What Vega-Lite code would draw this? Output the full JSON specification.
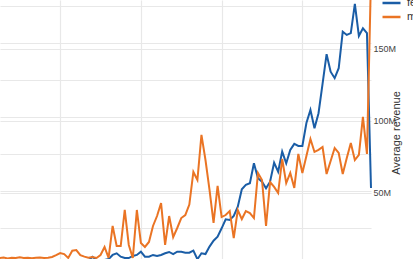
{
  "$schema": "https://vega.github.io/schema/vega-lite/v6.json",
  "width": 371,
  "height": 265,
  "autosize": {"type": "none"},
  "padding": {"left": 0, "top": 0, "right": 42, "bottom": 0},
  "background": "white",
  "config": {
    "view": {"stroke": null},
    "font": "Liberation Sans",
    "axis": {"gridColor": "#e8e8e8", "gridWidth": 1.2, "domain": false, "ticks": false}
  },
  "data": {
    "values": [
      {"year": 1925, "gender": "female", "revenue": 1.5}, {"year": 1926, "gender": "female", "revenue": 2.0}, {"year": 1927, "gender": "female", "revenue": 1.8}, {"year": 1928, "gender": "female", "revenue": 2.2}, {"year": 1929, "gender": "female", "revenue": 1.6}, {"year": 1930, "gender": "female", "revenue": 2.1}, {"year": 1931, "gender": "female", "revenue": 1.9}, {"year": 1932, "gender": "female", "revenue": 2.3}, {"year": 1933, "gender": "female", "revenue": 1.7}, {"year": 1934, "gender": "female", "revenue": 2.0}, {"year": 1935, "gender": "female", "revenue": 2.4}, {"year": 1936, "gender": "female", "revenue": 1.8}, {"year": 1937, "gender": "female", "revenue": 2.1}, {"year": 1938, "gender": "female", "revenue": 2.5}, {"year": 1939, "gender": "female", "revenue": 2.2}, {"year": 1940, "gender": "female", "revenue": 2.6}, {"year": 1941, "gender": "female", "revenue": 2.0}, {"year": 1942, "gender": "female", "revenue": 2.4}, {"year": 1943, "gender": "female", "revenue": 2.8}, {"year": 1944, "gender": "female", "revenue": 2.3}, {"year": 1945, "gender": "female", "revenue": 2.7}, {"year": 1946, "gender": "female", "revenue": 2.5}, {"year": 1947, "gender": "female", "revenue": 3.0},
      {"year": 1948, "gender": "female", "revenue": 5.6}, {"year": 1949, "gender": "female", "revenue": 3.4}, {"year": 1950, "gender": "female", "revenue": 3.0}, {"year": 1951, "gender": "female", "revenue": 3.4}, {"year": 1952, "gender": "female", "revenue": 4.0}, {"year": 1953, "gender": "female", "revenue": 6.8}, {"year": 1954, "gender": "female", "revenue": 7.9}, {"year": 1955, "gender": "female", "revenue": 5.6}, {"year": 1956, "gender": "female", "revenue": 4.7}, {"year": 1957, "gender": "female", "revenue": 4.7}, {"year": 1958, "gender": "female", "revenue": 6.1}, {"year": 1959, "gender": "female", "revenue": 6.8}, {"year": 1960, "gender": "female", "revenue": 9.0}, {"year": 1961, "gender": "female", "revenue": 5.6}, {"year": 1962, "gender": "female", "revenue": 5.6}, {"year": 1963, "gender": "female", "revenue": 6.8}, {"year": 1964, "gender": "female", "revenue": 6.1}, {"year": 1965, "gender": "female", "revenue": 6.8}, {"year": 1966, "gender": "female", "revenue": 7.9}, {"year": 1967, "gender": "female", "revenue": 8.8}, {"year": 1968, "gender": "female", "revenue": 7.4}, {"year": 1969, "gender": "female", "revenue": 9.0}, {"year": 1970, "gender": "female", "revenue": 9.0}, {"year": 1971, "gender": "female", "revenue": 8.3}, {"year": 1972, "gender": "female", "revenue": 8.3}, {"year": 1973, "gender": "female", "revenue": 9.7}, {"year": 1974, "gender": "female", "revenue": 3.9}, {"year": 1975, "gender": "female", "revenue": 7.9}, {"year": 1976, "gender": "female", "revenue": 7.4}, {"year": 1977, "gender": "female", "revenue": 12.4}, {"year": 1978, "gender": "female", "revenue": 16.4}, {"year": 1979, "gender": "female", "revenue": 19.1}, {"year": 1980, "gender": "female", "revenue": 24.8}, {"year": 1981, "gender": "female", "revenue": 30.9}, {"year": 1982, "gender": "female", "revenue": 30.4}, {"year": 1983, "gender": "female", "revenue": 33.1}, {"year": 1984, "gender": "female", "revenue": 39.4}, {"year": 1985, "gender": "female", "revenue": 51.2}, {"year": 1986, "gender": "female", "revenue": 54.1}, {"year": 1987, "gender": "female", "revenue": 55.2}, {"year": 1988, "gender": "female", "revenue": 68.7}, {"year": 1989, "gender": "female", "revenue": 58.6}, {"year": 1990, "gender": "female", "revenue": 56.3}, {"year": 1991, "gender": "female", "revenue": 51.8}, {"year": 1992, "gender": "female", "revenue": 56.3}, {"year": 1993, "gender": "female", "revenue": 69.1}, {"year": 1994, "gender": "female", "revenue": 63.0}, {"year": 1995, "gender": "female", "revenue": 76.6}, {"year": 1996, "gender": "female", "revenue": 68.7}, {"year": 1997, "gender": "female", "revenue": 77.7}, {"year": 1998, "gender": "female", "revenue": 81.8}, {"year": 1999, "gender": "female", "revenue": 80.4}, {"year": 2000, "gender": "female", "revenue": 80.4}, {"year": 2001, "gender": "female", "revenue": 95.9}, {"year": 2002, "gender": "female", "revenue": 104.7}, {"year": 2003, "gender": "female", "revenue": 92.4}, {"year": 2004, "gender": "female", "revenue": 102.5}, {"year": 2005, "gender": "female", "revenue": 122.3}, {"year": 2006, "gender": "female", "revenue": 142.4}, {"year": 2007, "gender": "female", "revenue": 130.6}, {"year": 2008, "gender": "female", "revenue": 126.2}, {"year": 2009, "gender": "female", "revenue": 132.9}, {"year": 2010, "gender": "female", "revenue": 157.6}, {"year": 2011, "gender": "female", "revenue": 155.4}, {"year": 2012, "gender": "female", "revenue": 156.6}, {"year": 2013, "gender": "female", "revenue": 176.4}, {"year": 2014, "gender": "female", "revenue": 154.7}, {"year": 2015, "gender": "female", "revenue": 159.9}, {"year": 2016, "gender": "female", "revenue": 156.6}, {"year": 2017, "gender": "female", "revenue": 52.0},
      {"year": 1925, "gender": "male", "revenue": 4.9}, {"year": 1926, "gender": "male", "revenue": 5.2}, {"year": 1927, "gender": "male", "revenue": 4.6}, {"year": 1928, "gender": "male", "revenue": 5.0}, {"year": 1929, "gender": "male", "revenue": 4.8}, {"year": 1930, "gender": "male", "revenue": 5.3}, {"year": 1931, "gender": "male", "revenue": 4.9}, {"year": 1932, "gender": "male", "revenue": 5.1}, {"year": 1933, "gender": "male", "revenue": 4.7}, {"year": 1934, "gender": "male", "revenue": 5.0}, {"year": 1935, "gender": "male", "revenue": 5.2}, {"year": 1936, "gender": "male", "revenue": 4.9}, {"year": 1937, "gender": "male", "revenue": 5.1}, {"year": 1938, "gender": "male", "revenue": 5.6}, {"year": 1939, "gender": "male", "revenue": 6.9}, {"year": 1940, "gender": "male", "revenue": 8.3}, {"year": 1941, "gender": "male", "revenue": 7.6}, {"year": 1942, "gender": "male", "revenue": 4.9}, {"year": 1943, "gender": "male", "revenue": 9.9}, {"year": 1944, "gender": "male", "revenue": 10.4}, {"year": 1945, "gender": "male", "revenue": 6.9}, {"year": 1946, "gender": "male", "revenue": 5.8}, {"year": 1947, "gender": "male", "revenue": 5.1}, {"year": 1948, "gender": "male", "revenue": 5.5}, {"year": 1949, "gender": "male", "revenue": 4.9}, {"year": 1950, "gender": "male", "revenue": 6.9}, {"year": 1951, "gender": "male", "revenue": 12.5}, {"year": 1952, "gender": "male", "revenue": 4.9}, {"year": 1953, "gender": "male", "revenue": 27.1}, {"year": 1954, "gender": "male", "revenue": 13.2}, {"year": 1955, "gender": "male", "revenue": 13.2}, {"year": 1956, "gender": "male", "revenue": 38.2}, {"year": 1957, "gender": "male", "revenue": 13.9}, {"year": 1958, "gender": "male", "revenue": 4.9}, {"year": 1959, "gender": "male", "revenue": 38.2}, {"year": 1960, "gender": "male", "revenue": 15.3}, {"year": 1961, "gender": "male", "revenue": 12.5}, {"year": 1962, "gender": "male", "revenue": 16.0}, {"year": 1963, "gender": "male", "revenue": 27.1}, {"year": 1964, "gender": "male", "revenue": 34.0}, {"year": 1965, "gender": "male", "revenue": 43.0}, {"year": 1966, "gender": "male", "revenue": 13.9}, {"year": 1967, "gender": "male", "revenue": 34.0}, {"year": 1968, "gender": "male", "revenue": 19.4}, {"year": 1969, "gender": "male", "revenue": 25.7}, {"year": 1970, "gender": "male", "revenue": 32.6}, {"year": 1971, "gender": "male", "revenue": 34.7}, {"year": 1972, "gender": "male", "revenue": 42.0}, {"year": 1973, "gender": "male", "revenue": 64.6}, {"year": 1974, "gender": "male", "revenue": 59.0}, {"year": 1975, "gender": "male", "revenue": 90.3}, {"year": 1976, "gender": "male", "revenue": 72.9}, {"year": 1977, "gender": "male", "revenue": 52.1}, {"year": 1978, "gender": "male", "revenue": 29.2}, {"year": 1979, "gender": "male", "revenue": 54.9}, {"year": 1980, "gender": "male", "revenue": 33.3}, {"year": 1981, "gender": "male", "revenue": 34.7}, {"year": 1982, "gender": "male", "revenue": 37.5}, {"year": 1983, "gender": "male", "revenue": 18.7}, {"year": 1984, "gender": "male", "revenue": 38.2}, {"year": 1985, "gender": "male", "revenue": 31.9}, {"year": 1986, "gender": "male", "revenue": 37.5}, {"year": 1987, "gender": "male", "revenue": 36.1}, {"year": 1988, "gender": "male", "revenue": 32.6}, {"year": 1989, "gender": "male", "revenue": 63.9}, {"year": 1990, "gender": "male", "revenue": 59.0}, {"year": 1991, "gender": "male", "revenue": 27.1}, {"year": 1992, "gender": "male", "revenue": 57.6}, {"year": 1993, "gender": "male", "revenue": 54.2}, {"year": 1994, "gender": "male", "revenue": 50.0}, {"year": 1995, "gender": "male", "revenue": 73.6}, {"year": 1996, "gender": "male", "revenue": 56.9}, {"year": 1997, "gender": "male", "revenue": 63.9}, {"year": 1998, "gender": "male", "revenue": 53.5}, {"year": 1999, "gender": "male", "revenue": 77.1}, {"year": 2000, "gender": "male", "revenue": 63.9}, {"year": 2001, "gender": "male", "revenue": 75.7}, {"year": 2002, "gender": "male", "revenue": 87.5}, {"year": 2003, "gender": "male", "revenue": 78.5}, {"year": 2004, "gender": "male", "revenue": 79.9}, {"year": 2005, "gender": "male", "revenue": 81.9}, {"year": 2006, "gender": "male", "revenue": 63.2}, {"year": 2007, "gender": "male", "revenue": 72.2}, {"year": 2008, "gender": "male", "revenue": 81.2}, {"year": 2009, "gender": "male", "revenue": 77.8}, {"year": 2010, "gender": "male", "revenue": 63.2}, {"year": 2011, "gender": "male", "revenue": 74.3}, {"year": 2012, "gender": "male", "revenue": 84.7}, {"year": 2013, "gender": "male", "revenue": 72.9}, {"year": 2014, "gender": "male", "revenue": 76.4}, {"year": 2015, "gender": "male", "revenue": 102.8}, {"year": 2016, "gender": "male", "revenue": 77.1}, {"year": 2017, "gender": "male", "revenue": 200.0}
    ]
  },
  "encoding": {
    "x": {
      "field": "year", "type": "quantitative",
      "scale": {"domain": [1925.1, 2017], "nice": false, "zero": false},
      "axis": {"values": [1940, 1960, 1980, 2000], "grid": true, "title": null, "labels": false}
    },
    "color": {
      "field": "gender", "type": "nominal",
      "scale": {"domain": ["female", "male"], "range": ["#1a5da6", "#ea7424"]},
      "legend": {
        "orient": "none", "legendX": 381, "legendY": -3, "title": null,
        "symbolType": "stroke", "symbolSize": 324, "symbolStrokeWidth": 2.5,
        "clipHeight": 12, "rowPadding": 2, "padding": 0,
        "labelFontSize": 11, "labelColor": "#333", "labelOffset": 5
      }
    }
  },
  "layer": [
    {
      "transform": [{"filter": "datum.gender === 'female'"}],
      "mark": {"type": "line", "strokeWidth": 2},
      "encoding": {
        "y": {
          "field": "revenue", "type": "quantitative",
          "scale": {"domain": [0, 179], "nice": false},
          "axis": {"orient": "left", "values": [0, 25, 50, 75, 100, 125, 150, 175], "grid": true, "title": null, "labels": false}
        }
      }
    },
    {
      "transform": [{"filter": "datum.gender === 'male'"}],
      "mark": {"type": "line", "strokeWidth": 2},
      "encoding": {
        "y": {
          "field": "revenue", "type": "quantitative",
          "scale": {"domain": [0, 184], "nice": false},
          "axis": {
            "orient": "right", "values": [50, 100, 150], "grid": true,
            "title": "Average revenue", "titleAngle": 270, "titleFontSize": 11, "titleFontWeight": "normal", "titleColor": "#333", "titlePadding": 6,
            "labelExpr": "datum.value + 'M'", "labelFontSize": 9, "labelColor": "#444", "labelPadding": 2
          }
        }
      }
    }
  ],
  "resolve": {"scale": {"y": "independent"}}
}
